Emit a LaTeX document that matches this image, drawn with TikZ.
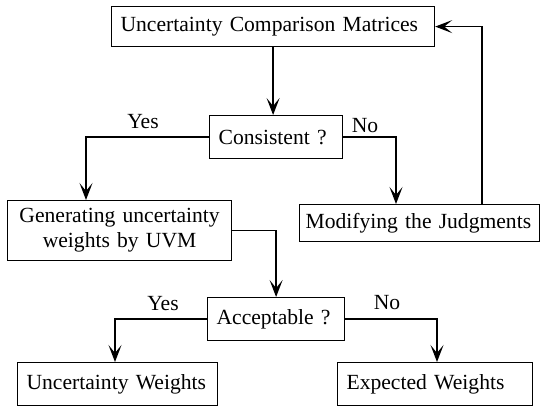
\documentclass[tikz,border=0pt]{standalone}
\usepackage{fontspec}
\setmainfont{Liberation Serif}
\usetikzlibrary{arrows.meta,positioning,calc}

\begin{document}
\begin{tikzpicture}[x=0.5pt,y=-0.5pt,font=\fontsize{10.8}{12.5}\selectfont,
  box/.style={draw,line width=0.6pt,anchor=north west,inner xsep=4.5pt,inner ysep=0pt,minimum height=21.5pt,align=left},
  flow/.style={draw,line width=0.65pt,-{Stealth[length=8.5pt,width=6.5pt,inset=4pt]}}]
  \useasboundingbox (0,0) rectangle (540,406);
  % matrices and first check
  \node[box,text width=152.5pt,minimum height=20pt] (cmp) at (111,6) {\mbox{Uncertainty Comparison Matrices}};
  \node[box,text width=57.5pt] (cons) at (209,115) {\mbox{Consistent ?}};
  % the two branches
  \node[box,text width=103pt,minimum height=30pt,align=center] (gen) at (7,200) {Generating uncertainty\\weights by UVM};
  \node[box,inner xsep=3pt,text width=114pt,minimum height=18.5pt] (mod) at (299,204) {\mbox{Modifying the Judgments}};
  % second check and results
  \node[box,text width=59.5pt] (acc) at (207,297) {\mbox{Acceptable ?}};
  \node[box,text width=91pt] (uw) at (17,362) {\mbox{Uncertainty Weights}};
  \node[box,text width=88.5pt] (ew) at (337,362) {\mbox{Expected Weights}};
  % labels
  \node (yes1) at (143,122) {Yes};
  \node (no1) at (365,126) {No};
  \node (yes2) at (163,304) {Yes};
  \node (no2) at (387,303) {No};
  % connectors
  \draw[flow] (cmp.south) -- (cmp.south |- cons.north);
  \draw[flow] (cons.west) -| ([xshift=39.5pt]gen.north west);
  \draw[flow] (cons.east) -| ([xshift=48.5pt]mod.north west);
  \draw[flow] ([xshift=91.5pt]mod.north west) |- (cmp.east);
  \draw[flow] (gen.east) -| (acc.north);
  \draw[flow] (acc.west) -| ([xshift=49pt]uw.north west);
  \draw[flow] (acc.east) -| ([xshift=50pt]ew.north west);
\end{tikzpicture}
\end{document}
